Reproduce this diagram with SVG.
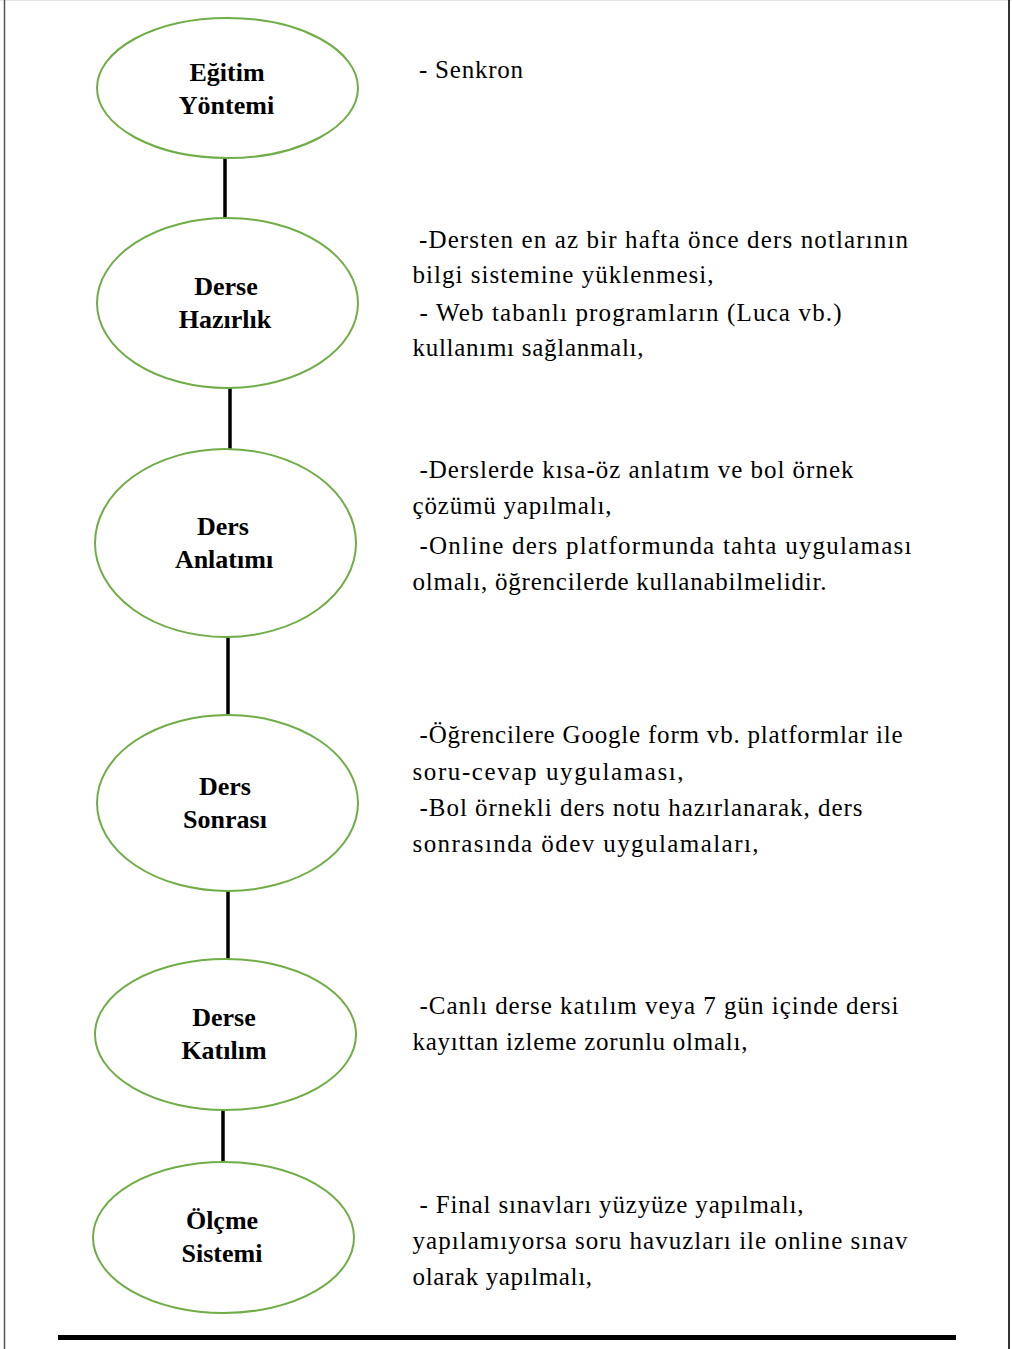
<svg xmlns="http://www.w3.org/2000/svg" width="1012" height="1349" viewBox="0 0 1012 1349">
<style>
.node{fill:#fff;stroke:#70AD47;stroke-width:2}
.lbl{font-family:"Liberation Serif",serif;font-weight:bold;font-size:26px;fill:#000;text-anchor:middle}
.desc{font-family:"Liberation Serif",serif;font-size:25px;fill:#000}
.conn{stroke:#000;stroke-width:3.5}
</style>
<rect width="1012" height="1349" fill="#fff"/>
<line x1="0" y1="0.5" x2="1012" y2="0.5" stroke="#e6e6e6" stroke-width="1"/>
<line x1="4.5" y1="0" x2="4.5" y2="1349" stroke="#555" stroke-width="1.5"/>
<line x1="1009" y1="0" x2="1009" y2="1349" stroke="#333" stroke-width="2"/>
<rect x="58" y="1335" width="898" height="5" fill="#000"/>
<g id="connectors">
<line class="conn" x1="225" y1="158" x2="225" y2="218"/>
<line class="conn" x1="230" y1="388" x2="230" y2="451"/>
<line class="conn" x1="228" y1="637" x2="228" y2="716"/>
<line class="conn" x1="228" y1="891" x2="228" y2="959"/>
<line class="conn" x1="223" y1="1110" x2="223" y2="1162"/>
</g>
<g id="n1">
<ellipse class="node" cx="227.5" cy="88" rx="130.5" ry="70"/>
<text class="lbl" x="227" y="81">Eğitim</text>
<text class="lbl" x="226.5" y="114">Yöntemi</text>
</g>
<g id="n2">
<ellipse class="node" cx="227.5" cy="303" rx="130.5" ry="85"/>
<text class="lbl" x="226" y="295">Derse</text>
<text class="lbl" x="225" y="328">Hazırlık</text>
</g>
<g id="n3">
<ellipse class="node" cx="225.5" cy="543" rx="130.5" ry="94"/>
<text class="lbl" x="223" y="535">Ders</text>
<text class="lbl" x="224" y="568">Anlatımı</text>
</g>
<g id="n4">
<ellipse class="node" cx="227.5" cy="803" rx="130.5" ry="88"/>
<text class="lbl" x="225" y="795">Ders</text>
<text class="lbl" x="225" y="828">Sonrası</text>
</g>
<g id="n5">
<ellipse class="node" cx="225.5" cy="1034.5" rx="130.5" ry="75.5"/>
<text class="lbl" x="224" y="1026">Derse</text>
<text class="lbl" x="224" y="1059">Katılım</text>
</g>
<g id="n6">
<ellipse class="node" cx="223.5" cy="1237.5" rx="130.5" ry="75.5"/>
<text class="lbl" x="222" y="1229">Ölçme</text>
<text class="lbl" x="222" y="1262">Sistemi</text>
</g>
<g id="descriptions">
<text class="desc" x="419" y="78" textLength="104" lengthAdjust="spacing">- Senkron</text>
<text class="desc" x="419" y="248" textLength="489" lengthAdjust="spacing">-Dersten en az bir hafta önce ders notlarının</text>
<text class="desc" x="412.5" y="283" textLength="301" lengthAdjust="spacing">bilgi sistemine yüklenmesi,</text>
<text class="desc" x="419.5" y="321" textLength="422" lengthAdjust="spacing">- Web tabanlı programların (Luca vb.)</text>
<text class="desc" x="412.5" y="356" textLength="231" lengthAdjust="spacing">kullanımı sağlanmalı,</text>
<text class="desc" x="419.5" y="478" textLength="434" lengthAdjust="spacing">-Derslerde kısa-öz anlatım ve bol örnek</text>
<text class="desc" x="412.5" y="514" textLength="199" lengthAdjust="spacing">çözümü yapılmalı,</text>
<text class="desc" x="419.5" y="554" textLength="492" lengthAdjust="spacing">-Online ders platformunda tahta uygulaması</text>
<text class="desc" x="412.5" y="590" textLength="414" lengthAdjust="spacing">olmalı, öğrencilerde kullanabilmelidir.</text>
<text class="desc" x="419.5" y="743" textLength="483" lengthAdjust="spacing">-Öğrencilere Google form vb. platformlar ile</text>
<text class="desc" x="412.5" y="780" textLength="271" lengthAdjust="spacing">soru-cevap uygulaması,</text>
<text class="desc" x="419.5" y="816" textLength="443" lengthAdjust="spacing">-Bol örnekli ders notu hazırlanarak, ders</text>
<text class="desc" x="412.5" y="852" textLength="346" lengthAdjust="spacing">sonrasında ödev uygulamaları,</text>
<text class="desc" x="419.5" y="1014" textLength="479" lengthAdjust="spacing">-Canlı derse katılım veya 7 gün içinde dersi</text>
<text class="desc" x="412.5" y="1050" textLength="335" lengthAdjust="spacing">kayıttan izleme zorunlu olmalı,</text>
<text class="desc" x="419.5" y="1213" textLength="384" lengthAdjust="spacing">- Final sınavları yüzyüze yapılmalı,</text>
<text class="desc" x="412.5" y="1249" textLength="495" lengthAdjust="spacing">yapılamıyorsa soru havuzları ile online sınav</text>
<text class="desc" x="412.5" y="1285" textLength="179.5" lengthAdjust="spacing">olarak yapılmalı,</text>
</g>
</svg>
